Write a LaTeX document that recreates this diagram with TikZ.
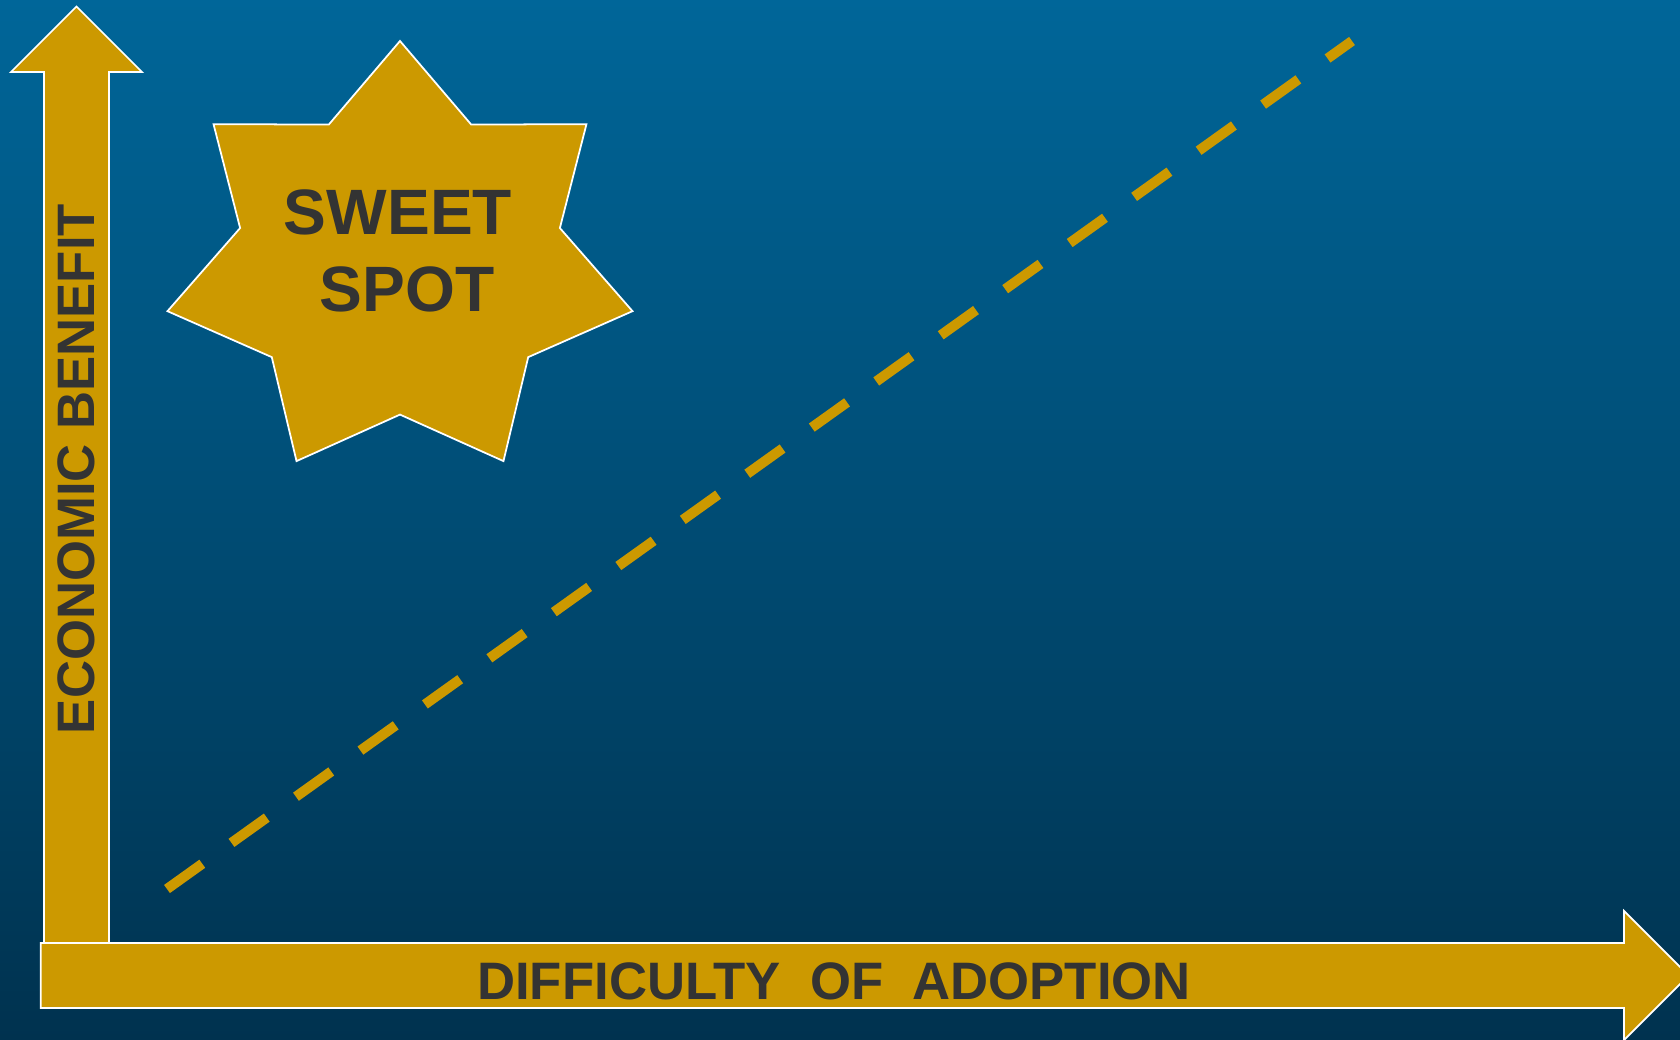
\documentclass[tikz,border=0pt]{standalone}
\usepackage{fontspec}
\setsansfont{Liberation Sans}
\usetikzlibrary{calc}

\definecolor{bgtop}{RGB}{0,102,153}
\definecolor{bgbot}{RGB}{0,50,79}
\definecolor{gold}{RGB}{204,153,0}
\definecolor{ink}{RGB}{51,51,51}

\begin{document}
\begin{tikzpicture}[x=0.02cm, y=-0.02cm, font=\sffamily\bfseries]
\tikzset{
  axisarrow/.style={fill=gold, draw=white, line width=1pt, line join=miter},
  axislabel/.style={text=ink, inner sep=0pt, font=\sffamily\bfseries\fontsize{30}{36}\selectfont},
  spotstar/.style={fill=gold, draw=white, line width=1pt, line join=miter},
  spottext/.style={text=ink, align=center, inner sep=0pt, font=\sffamily\bfseries\fontsize{36.5}{43.5}\selectfont},
  trend/.style={draw=gold, line width=5.7pt, dash pattern=on 0.868cm off 0.718cm}
}
\useasboundingbox (0,0) rectangle (1680,1040);
\clip (0,0) rectangle (1680,1040);
% backdrop
\shade[top color=bgtop, bottom color=bgbot] (0,0) rectangle (1680,1040);

% trend line
\coordinate (trendA) at (167,889);
\coordinate (trendB) at (1352,41);
\draw[trend] (trendA) -- (trendB);

% sweet spot star
\coordinate (sc) at (400,262);
\draw[spotstar] ($(sc)+(-90:238.5 and 221)$)
  \foreach \k [evaluate=\k as \rx using {mod(\k,2)==1 ? 164 : 238.5},
               evaluate=\k as \ry using {mod(\k,2)==1 ? 152.6 : 221}] in {1,...,13}
  { -- ($(sc)+({-90+\k*180/7}:{\rx} and {\ry})$) } -- cycle;
\node[spottext] (spot) at (398,251) {SWEET\\\hspace*{0.28em}SPOT};

% axes
\draw[axisarrow] (44,965) -- (44,72) -- (11,72) -- (76.5,6.5) -- (142,72)
  -- (109,72) -- (109,965) -- cycle;
\draw[axisarrow] (40.7,943) -- (1624,943) -- (1624,911) -- (1688.5,975.5)
  -- (1624,1040) -- (1624,1008) -- (40.7,1008) -- cycle;
\node[axislabel, rotate=90] (ylabel) at (76,469) {ECONOMIC BENEFIT};
\node[axislabel] (xlabel) at (834,981) {DIFFICULTY\ \ OF\ \ ADOPTION};
\end{tikzpicture}
\end{document}
